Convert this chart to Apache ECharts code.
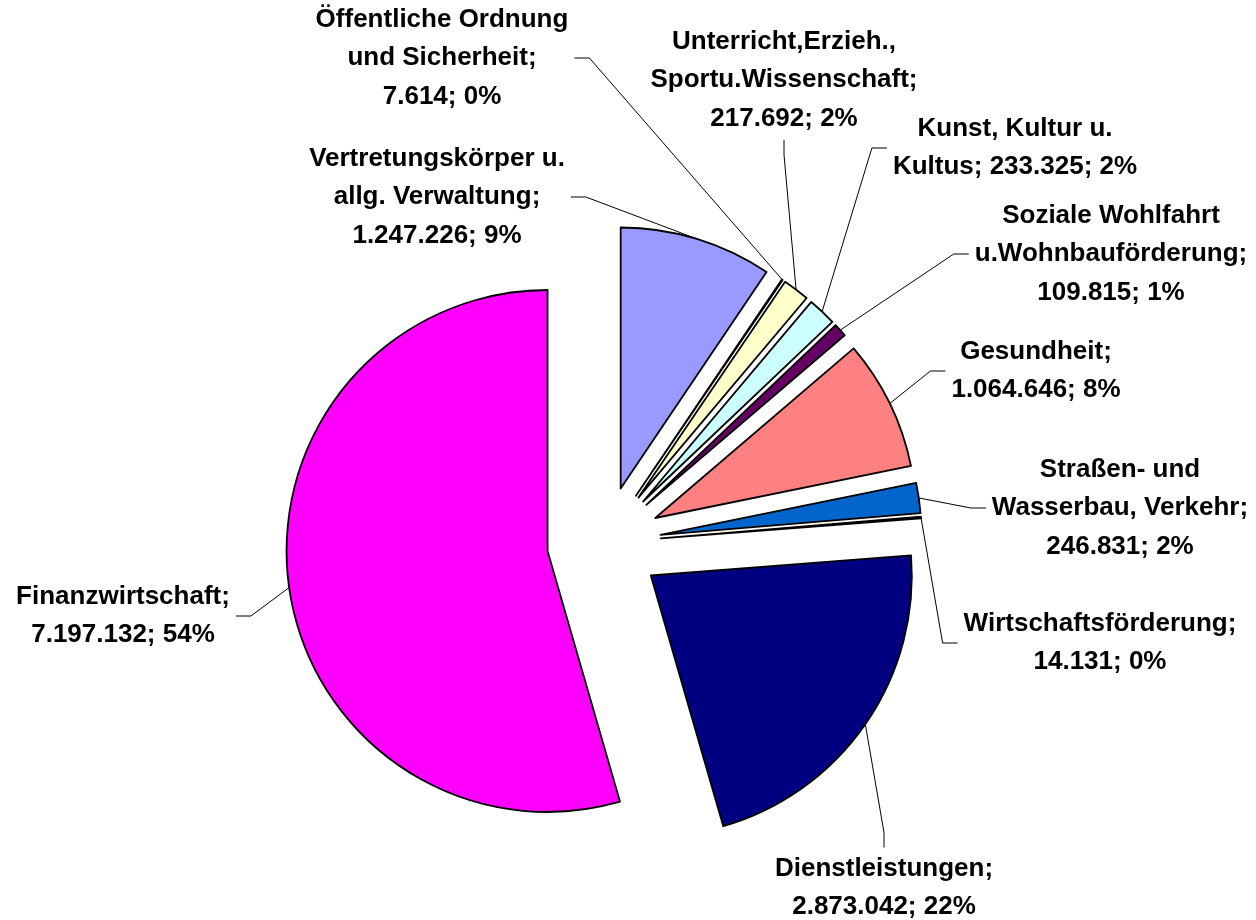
<!DOCTYPE html>
<html>
<head>
<meta charset="utf-8">
<script src="https://cdn.jsdelivr.net/npm/echarts@6/dist/echarts.min.js"></script>
<style>
html,body{margin:0;padding:0;background:#fff}
#chart{width:1256px;height:920px}
</style>
</head>
<body>
<div id="chart"></div>
<script>
// Kategorien, im Uhrzeigersinn ab 12 Uhr
var categories = [
  'Vertretungskörper u.\nallg. Verwaltung',
  'Öffentliche Ordnung\nund Sicherheit',
  'Unterricht,Erzieh.,\nSportu.Wissenschaft',
  'Kunst, Kultur u.\nKultus',
  'Soziale Wohlfahrt\nu.Wohnbauförderung',
  'Gesundheit',
  'Straßen- und\nWasserbau, Verkehr',
  'Wirtschaftsförderung',
  'Dienstleistungen',
  'Finanzwirtschaft'
];
// Beträge
var values = [1247226, 7614, 217692, 233325, 109815, 1064646, 246831, 14131, 2873042, 7197132];
// Trenner zwischen Name und Wert in der Beschriftung
var valueSep = ['\n', '\n', '\n', ' ', '\n', '\n', '\n', '\n', '\n', '\n'];
// Excel-Standardfarben
var colors = ['#9999FF', '#993366', '#FFFFCC', '#CCFFFF', '#660066', '#FF8080', '#0066CC', '#CCCCFF', '#000080', '#FF00FF'];

// Kreismitte, Radius, Explosion
var cx = 604, cy = 543, R = 261, explode = 57;
// Position der Beschriftungen (Mitte des Textblocks)
var labelPos = [
  [437, 197], [442, 58], [784, 80], [1015, 148], [1111, 254],
  [1036, 371], [1120, 508], [1100, 643], [884, 888], [123, 616]
];

function fmt(v) {
  return String(v).replace(/\B(?=(\d{3})+(?!\d))/g, '.');
}

var total = 0;
values.forEach(function (v) { total += v; });

var chart = echarts.init(document.getElementById('chart'));

// jedes Segment als eigene Reihe, um es aus der Mitte zu ruecken
var series = [];
var cum = 0;
for (var k = 0; k < values.length; k++) {
  var mid = (cum + values[k] / 2) / total * 2 * Math.PI;
  cum += values[k];
  var data = [];
  for (var i = 0; i < values.length; i++) {
    var item = { name: categories[i], value: values[i] };
    if (i === k) {
      item.itemStyle = { color: colors[i], borderColor: '#000', borderWidth: 1.8 };
    } else {
      item.itemStyle = { color: 'rgba(0,0,0,0)', borderWidth: 0 };
      item.label = { show: false };
      item.labelLine = { show: false };
    }
    data.push(item);
  }
  series.push({
    type: 'pie',
    silent: true,
    center: [cx + explode * Math.sin(mid), cy - explode * Math.cos(mid)],
    radius: R,
    startAngle: 90,
    clockwise: true,
    avoidLabelOverlap: false,
    percentPrecision: 2,
    label: {
      show: true,
      color: '#000',
      fontFamily: '"Liberation Sans", Arial, sans-serif',
      fontWeight: 'bold',
      fontSize: 26,
      lineHeight: 38.5,
      padding: [2, 6],
      formatter: function (p) {
        return p.name + ';' + valueSep[p.dataIndex] + fmt(p.value) + '; ' + Math.round(p.percent) + '%';
      }
    },
    labelLine: {
      show: true,
      length2: 15,
      lineStyle: { color: '#000', width: 1 }
    },
    labelLayout: function (p) {
      var pos = labelPos[p.dataIndex];
      return { x: pos[0], y: pos[1], align: 'center', verticalAlign: 'middle' };
    },
    data: data
  });
}

chart.setOption({
  backgroundColor: '#ffffff',
  animation: false,
  series: series
});
</script>
</body>
</html>
